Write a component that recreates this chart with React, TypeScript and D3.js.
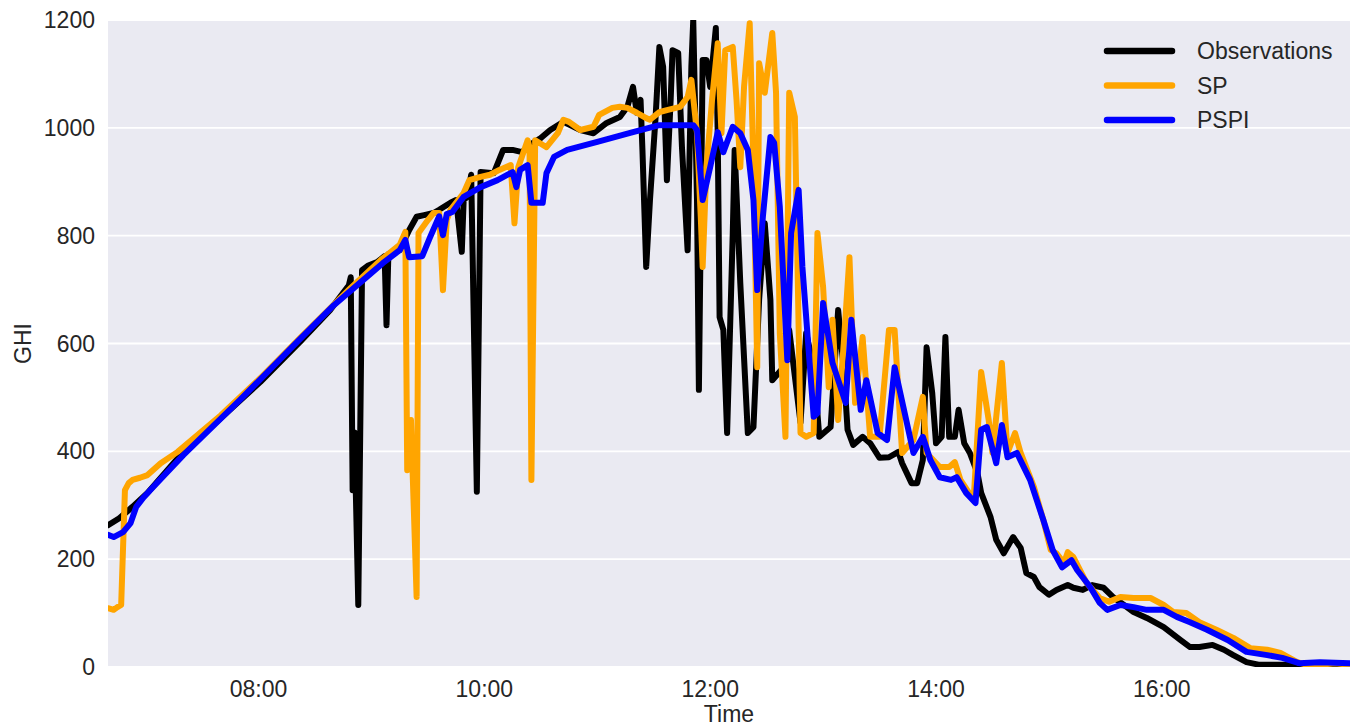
import React, { useEffect, useRef } from 'react';
import * as d3 from 'd3';

type Pt = [string, number];

const seriesNames = ['Observations', 'SP', 'PSPI'];
const seriesColors = ['#000000', '#FFA500', '#0000FF'];
const timeRange = ['06:40', '17:40'];
const xTicks = ['08:00', '10:00', '12:00', '14:00', '16:00'];
const yTicks = [0, 200, 400, 600, 800, 1000, 1200];

// Observations (measured GHI)
const obsData: Pt[] = [
  ['06:40', 263], ['06:46', 276], ['06:53', 297], ['07:01', 323], ['07:20', 399], ['07:40', 462],
  ['08:01', 529], ['08:22', 603], ['08:38', 662], ['08:48', 708], ['08:49', 723], ['08:50', 328],
  ['08:51', 435], ['08:53', 115], ['08:55', 736], ['08:58', 744], ['09:03', 751], ['09:07', 762],
  ['09:08', 634], ['09:09', 766], ['09:15', 773], ['09:20', 810], ['09:24', 835], ['09:28', 838],
  ['09:33', 842], ['09:36', 848], ['09:42', 861], ['09:45', 866], ['09:48', 770], ['09:49', 866],
  ['09:51', 872], ['09:53', 913], ['09:56', 325], ['09:58', 918], ['10:05', 916], ['10:10', 959],
  ['10:15', 959], ['10:20', 955], ['10:24', 968], ['10:30', 981], ['10:35', 996], ['10:42', 1011],
  ['10:51', 996], ['10:58', 990], ['11:05', 1009], ['11:12', 1020], ['11:16', 1039], ['11:19', 1076],
  ['11:21', 1028], ['11:23', 1052], ['11:24', 959], ['11:26', 742], ['11:28', 866], ['11:31', 1020],
  ['11:33', 1150], ['11:35', 1113], ['11:37', 903], ['11:39', 1052], ['11:40', 1144], ['11:43', 1139],
  ['11:45', 964], ['11:48', 773], ['11:50', 1113], ['11:51', 1200], ['11:53', 866], ['11:54', 514],
  ['11:56', 1126], ['11:58', 1126], ['12:00', 1076], ['12:03', 1185], ['12:04', 990], ['12:05', 649],
  ['12:07', 625], ['12:09', 434], ['12:12', 805], ['12:13', 959], ['12:16', 712], ['12:20', 434],
  ['12:23', 445], ['12:26', 681], ['12:29', 823], ['12:32', 681], ['12:33', 532], ['12:39', 556],
  ['12:42', 625], ['12:48', 453], ['12:51', 619], ['12:55', 556], ['12:58', 427], ['13:04', 445],
  ['13:08', 662], ['13:11', 551], ['13:13', 440], ['13:16', 412], ['13:21', 427], ['13:25', 415],
  ['13:30', 388], ['13:35', 389], ['13:40', 399], ['13:42', 378], ['13:47', 341], ['13:50', 341],
  ['13:53', 384], ['13:55', 593], ['13:58', 508], ['14:00', 415], ['14:03', 427], ['14:05', 612],
  ['14:07', 427], ['14:10', 427], ['14:12', 477], ['14:15', 415], ['14:18', 397], ['14:22', 360],
  ['14:24', 323], ['14:29', 278], ['14:32', 236], ['14:36', 211], ['14:41', 241], ['14:45', 221],
  ['14:48', 174], ['14:52', 167], ['14:55', 148], ['15:00', 134], ['15:04', 143], ['15:10', 152],
  ['15:13', 147], ['15:18', 143], ['15:23', 152], ['15:29', 147], ['15:34', 130], ['15:45', 102],
  ['15:52', 91], ['16:01', 74], ['16:10', 50], ['16:15', 37], ['16:20', 37], ['16:27', 41],
  ['16:33', 32], ['16:38', 22], ['16:45', 9], ['16:52', 4], ['17:04', 4], ['17:23', 4], ['17:40', 4],
];

// SP forecast
const spData: Pt[] = [
  ['06:40', 109], ['06:43', 106], ['06:45', 111], ['06:47', 115], ['06:49', 328], ['06:51', 341],
  ['06:53', 347], ['06:57', 351], ['07:01', 356], ['07:08', 378], ['07:17', 399], ['07:40', 467],
  ['08:01', 536], ['08:22', 610], ['08:49', 703], ['09:05', 755], ['09:15', 783], ['09:18', 807],
  ['09:19', 365], ['09:21', 458], ['09:24', 130], ['09:25', 805], ['09:30', 829], ['09:33', 842],
  ['09:36', 842], ['09:38', 699], ['09:40', 829], ['09:42', 848], ['09:49', 879], ['09:52', 903],
  ['09:58', 909], ['10:03', 913], ['10:08', 922], ['10:14', 931], ['10:16', 823], ['10:18', 927],
  ['10:23', 977], ['10:24', 964], ['10:25', 347], ['10:27', 977], ['10:33', 964], ['10:39', 990],
  ['10:42', 1015], ['10:45', 1011], ['10:51', 996], ['10:58', 1002], ['11:01', 1024], ['11:08', 1037],
  ['11:12', 1039], ['11:16', 1037], ['11:21', 1028], ['11:26', 1018], ['11:28', 1015], ['11:33', 1029],
  ['11:37', 1033], ['11:44', 1039], ['11:48', 1057], ['11:50', 1089], ['11:53', 990], ['11:55', 835],
  ['11:56', 742], ['11:58', 927], ['12:01', 1052], ['12:04', 1157], ['12:06', 990], ['12:08', 1144],
  ['12:12', 1150], ['12:14', 1052], ['12:16', 927], ['12:18', 1076], ['12:21', 1194], ['12:23', 927],
  ['12:25', 556], ['12:26', 1120], ['12:29', 1065], ['12:33', 1176], ['12:35', 1065], ['12:37', 619],
  ['12:40', 427], ['12:42', 1065], ['12:45', 1020], ['12:48', 434], ['12:51', 427], ['12:55', 434],
  ['12:57', 805], ['13:00', 705], ['13:03', 519], ['13:05', 644], ['13:08', 458], ['13:11', 601],
  ['13:14', 760], ['13:17', 490], ['13:21', 612], ['13:25', 427], ['13:30', 427], ['13:35', 625],
  ['13:38', 625], ['13:42', 397], ['13:48', 421], ['13:53', 501], ['13:55', 397], ['14:02', 371],
  ['14:07', 371], ['14:10', 380], ['14:13', 347], ['14:20', 310], ['14:24', 547], ['14:28', 458],
  ['14:30', 397], ['14:35', 564], ['14:38', 397], ['14:42', 434], ['14:45', 397], ['14:52', 334],
  ['14:57', 273], ['15:01', 217], ['15:04', 211], ['15:08', 193], ['15:10', 213], ['15:13', 204],
  ['15:20', 156], ['15:27', 128], ['15:32', 121], ['15:38', 130], ['15:45', 128], ['15:54', 128],
  ['16:01', 115], ['16:06', 102], ['16:13', 100], ['16:20', 83], ['16:29', 69], ['16:38', 54],
  ['16:47', 35], ['16:56', 32], ['17:03', 26], ['17:12', 9], ['17:17', 4], ['17:24', 4],
  ['17:32', 7], ['17:40', 4],
];

// PSPI forecast
const pspiData: Pt[] = [
  ['06:40', 245], ['06:43', 241], ['06:48', 250], ['06:52', 267], ['06:55', 297], ['06:59', 315],
  ['07:04', 334], ['07:20', 393], ['07:50', 495], ['08:20', 601], ['08:40', 671], ['08:58', 725],
  ['09:06', 749], ['09:15', 773], ['09:18', 792], ['09:20', 760], ['09:27', 762], ['09:31', 796],
  ['09:36', 836], ['09:38', 801], ['09:40', 840], ['09:43', 844], ['09:49', 872], ['09:58', 890],
  ['10:07', 903], ['10:15', 918], ['10:17', 890], ['10:19', 922], ['10:23', 931], ['10:25', 861],
  ['10:31', 861], ['10:33', 916], ['10:37', 946], ['10:44', 959], ['11:00', 974], ['11:17', 990],
  ['11:33', 1005], ['11:51', 1005], ['11:53', 996], ['11:56', 866], ['12:00', 927], ['12:04', 992],
  ['12:07', 955], ['12:12', 1002], ['12:16', 990], ['12:20', 959], ['12:23', 866], ['12:25', 699],
  ['12:28', 835], ['12:32', 983], ['12:34', 972], ['12:37', 853], ['12:41', 569], ['12:43', 805],
  ['12:47', 885], ['12:49', 742], ['12:55', 464], ['12:57', 471], ['13:00', 675], ['13:05', 564],
  ['13:12', 490], ['13:15', 644], ['13:20', 477], ['13:23', 532], ['13:29', 434], ['13:34', 421],
  ['13:38', 556], ['13:45', 445], ['13:48', 397], ['13:53', 427], ['13:57', 384], ['14:02', 352],
  ['14:08', 347], ['14:11', 352], ['14:16', 323], ['14:21', 304], ['14:24', 440], ['14:27', 445],
  ['14:32', 378], ['14:35', 449], ['14:38', 389], ['14:43', 397], ['14:50', 347], ['14:57', 273],
  ['15:02', 217], ['15:07', 185], ['15:12', 198], ['15:15', 180], ['15:22', 148], ['15:27', 119],
  ['15:31', 106], ['15:38', 115], ['15:45', 111], ['15:52', 106], ['16:01', 106], ['16:08', 93],
  ['16:15', 83], ['16:24', 69], ['16:35', 50], ['16:45', 28], ['16:56', 22], ['17:04', 17],
  ['17:13', 7], ['17:24', 9], ['17:40', 7],
];

const allSeries = [obsData, spData, pspiData];

const App: React.FC = () => {
  const svgRef = useRef<SVGSVGElement>(null);

  useEffect(() => {
    if (!svgRef.current) return;
    const width = 1350;
    const height = 728;
    const margin = { top: 20, right: 0, bottom: 61, left: 108 };
    const font = '"Liberation Sans", Arial, sans-serif';
    const textColor = '#262626';

    const svg = d3.select(svgRef.current);
    svg.selectAll('*').remove();

    const parse = d3.timeParse('%H:%M');
    const x = d3.scaleTime()
      .domain([parse(timeRange[0])!, parse(timeRange[1])!])
      .range([margin.left, width - margin.right]);
    const y = d3.scaleLinear()
      .domain([0, 1200])
      .range([height - margin.bottom, margin.top]);

    // plot background
    svg.append('rect')
      .attr('x', margin.left)
      .attr('y', margin.top)
      .attr('width', width - margin.left - margin.right)
      .attr('height', height - margin.top - margin.bottom)
      .attr('fill', '#EAEAF2');

    // horizontal grid
    svg.append('g')
      .selectAll('line')
      .data(yTicks)
      .join('line')
      .attr('x1', margin.left)
      .attr('x2', width - margin.right)
      .attr('y1', d => y(d))
      .attr('y2', d => y(d))
      .attr('stroke', '#ffffff')
      .attr('stroke-width', 1.8);

    // y tick labels
    svg.append('g')
      .selectAll('text')
      .data(yTicks)
      .join('text')
      .attr('x', 95)
      .attr('y', d => y(d))
      .attr('dy', '0.35em')
      .attr('text-anchor', 'end')
      .attr('font-size', 23)
      .attr('font-family', font)
      .attr('fill', textColor)
      .text(d => d);

    // x tick labels
    svg.append('g')
      .selectAll('text')
      .data(xTicks)
      .join('text')
      .attr('x', d => x(parse(d)!))
      .attr('y', 697)
      .attr('text-anchor', 'middle')
      .attr('font-size', 23)
      .attr('font-family', font)
      .attr('fill', textColor)
      .text(d => d);

    // axis titles
    svg.append('text')
      .attr('x', (margin.left + width - margin.right) / 2)
      .attr('y', 722)
      .attr('text-anchor', 'middle')
      .attr('font-size', 23)
      .attr('font-family', font)
      .attr('fill', textColor)
      .text('Time');

    svg.append('text')
      .attr('transform', `translate(31, ${(margin.top + height - margin.bottom) / 2}) rotate(-90)`)
      .attr('text-anchor', 'middle')
      .attr('font-size', 23)
      .attr('font-family', font)
      .attr('fill', textColor)
      .text('GHI');

    // clip lines to the plot area
    svg.append('clipPath')
      .attr('id', 'plot-clip')
      .append('rect')
      .attr('x', margin.left)
      .attr('y', margin.top)
      .attr('width', width - margin.left - margin.right)
      .attr('height', height - margin.top - margin.bottom);

    const line = d3.line<Pt>()
      .x(d => x(parse(d[0])!))
      .y(d => y(d[1]));

    const lines = svg.append('g').attr('clip-path', 'url(#plot-clip)');
    allSeries.forEach((data, i) => {
      lines.append('path')
        .attr('d', line(data) as string)
        .attr('fill', 'none')
        .attr('stroke', seriesColors[i])
        .attr('stroke-width', 6)
        .attr('stroke-linejoin', 'round')
        .attr('stroke-linecap', 'round');
    });

    // legend
    const legend = svg.append('g');
    seriesNames.forEach((name, i) => {
      const ly = 51 + i * 34.5;
      legend.append('line')
        .attr('x1', 1107)
        .attr('x2', 1172)
        .attr('y1', ly)
        .attr('y2', ly)
        .attr('stroke', seriesColors[i])
        .attr('stroke-width', 6.5)
        .attr('stroke-linecap', 'round');
      legend.append('text')
        .attr('x', 1197)
        .attr('y', ly)
        .attr('dy', '0.35em')
        .attr('font-size', 23)
        .attr('font-family', font)
        .attr('fill', textColor)
        .text(name);
    });
  }, []);

  return (
    <svg
      ref={svgRef}
      width={1350}
      height={728}
      viewBox="0 0 1350 728"
      style={{ position: 'absolute', left: 0, top: 0, background: '#ffffff' }}
    />
  );
};

export default App;
